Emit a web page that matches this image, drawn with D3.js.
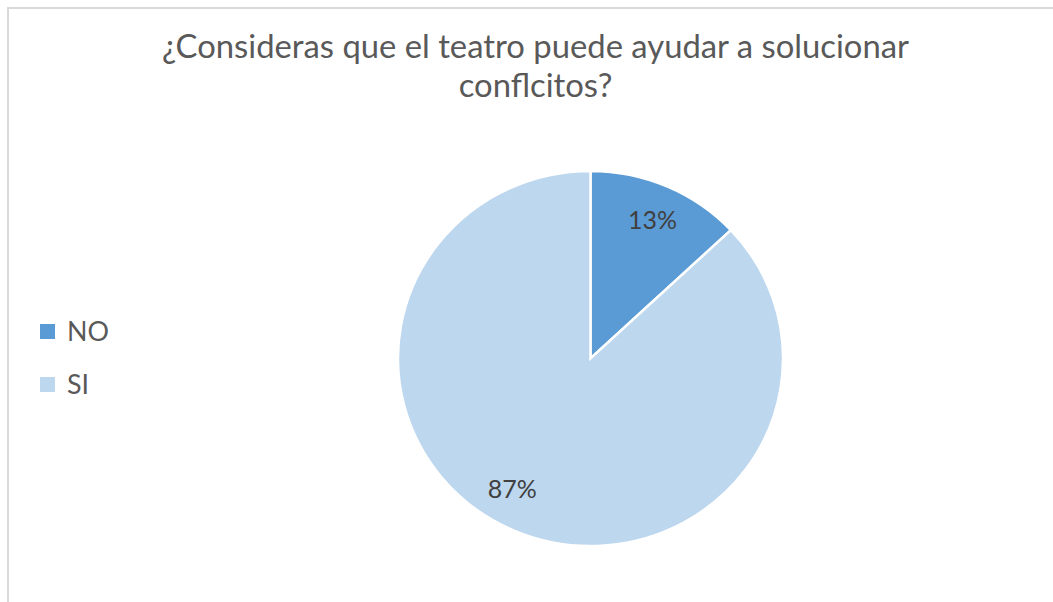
<!DOCTYPE html>
<html>
<head>
<meta charset="utf-8">
<script src="https://cdn.jsdelivr.net/npm/d3@7/dist/d3.min.js"></script>
<style>
  html, body { margin: 0; padding: 0; background: #fff; }
  svg { display: block; }
  text { font-family: Lato, "Open Sans", sans-serif; }
</style>
</head>
<body>
<svg id="chart" width="1053" height="602"></svg>
<script>
const titleLines = ["¿Consideras que el teatro puede ayudar a solucionar", "conflcitos?"];
const categories = ["NO", "SI"];
const values = [13, 87];
const labels = ["13%", "87%"];
const colors = ["#5B9BD5", "#BDD7EE"];

const W = 1053, H = 602;
const svg = d3.select("#chart");

// chart area border
svg.append("rect")
  .attr("x", 8).attr("y", 8)
  .attr("width", W + 20).attr("height", H + 20)
  .attr("fill", "#fff").attr("stroke", "#d9d9d9").attr("stroke-width", 2);

// helper: fit font size to a target width
function fitText(sel, targetWidth, base) {
  sel.attr("font-size", base);
  const w = sel.node().getComputedTextLength();
  sel.attr("font-size", base * targetWidth / w);
}

// title
const titleX = 535.5;
const t1 = svg.append("text").attr("x", titleX).attr("y", 58)
  .attr("text-anchor", "middle").attr("fill", "#595959").text(titleLines[0]);
fitText(t1, 747, 28);
const t2 = svg.append("text").attr("x", titleX).attr("y", 97)
  .attr("text-anchor", "middle").attr("fill", "#595959")
  .attr("font-size", t1.attr("font-size")).text(titleLines[1]);

// pie
const cx = 590.5, cy = 358.5, ry = 187.5, rx = 192.5;
const pie = d3.pie().sort(null).value(d => d)(values);
const arc = d3.arc().innerRadius(0).outerRadius(ry);
const g = svg.append("g").attr("transform", `translate(${cx},${cy}) scale(${rx / ry},1)`);
g.selectAll("path").data(pie).join("path")
  .attr("d", arc)
  .attr("fill", (d, i) => colors[i])
  .attr("stroke", "#fff").attr("stroke-width", 2.5)
  .attr("vector-effect", "non-scaling-stroke");

// data labels (Excel "best fit" style placement)
const labelRadius = [0.81, 0.80];
const labelAngleShift = [0, 0.125];
const lg = svg.append("g").attr("transform", `translate(${cx},${cy})`);
pie.forEach((d, i) => {
  const a = (d.startAngle + d.endAngle) / 2 + labelAngleShift[i];
  const r = ry * labelRadius[i];
  const x = Math.sin(a) * r * rx / ry;
  const y = -Math.cos(a) * r;
  const t = lg.append("text").attr("x", x).attr("y", y)
    .attr("text-anchor", "middle").attr("dominant-baseline", "central")
    .attr("fill", "#404040").text(labels[i]);
  fitText(t, 49, 22);
});

// legend
const legend = svg.append("g");
const legY = [341, 394];
categories.forEach((c, i) => {
  legend.append("rect").attr("x", 40).attr("y", legY[i] - 17)
    .attr("width", 15).attr("height", 15).attr("fill", colors[i]);
  const t = legend.append("text").attr("x", 67).attr("y", legY[i])
    .attr("fill", "#595959").text(c);
  if (i === 0) fitText(t, 42, 26);
  else t.attr("font-size", legend.select("text").attr("font-size"));
});
</script>
</body>
</html>
